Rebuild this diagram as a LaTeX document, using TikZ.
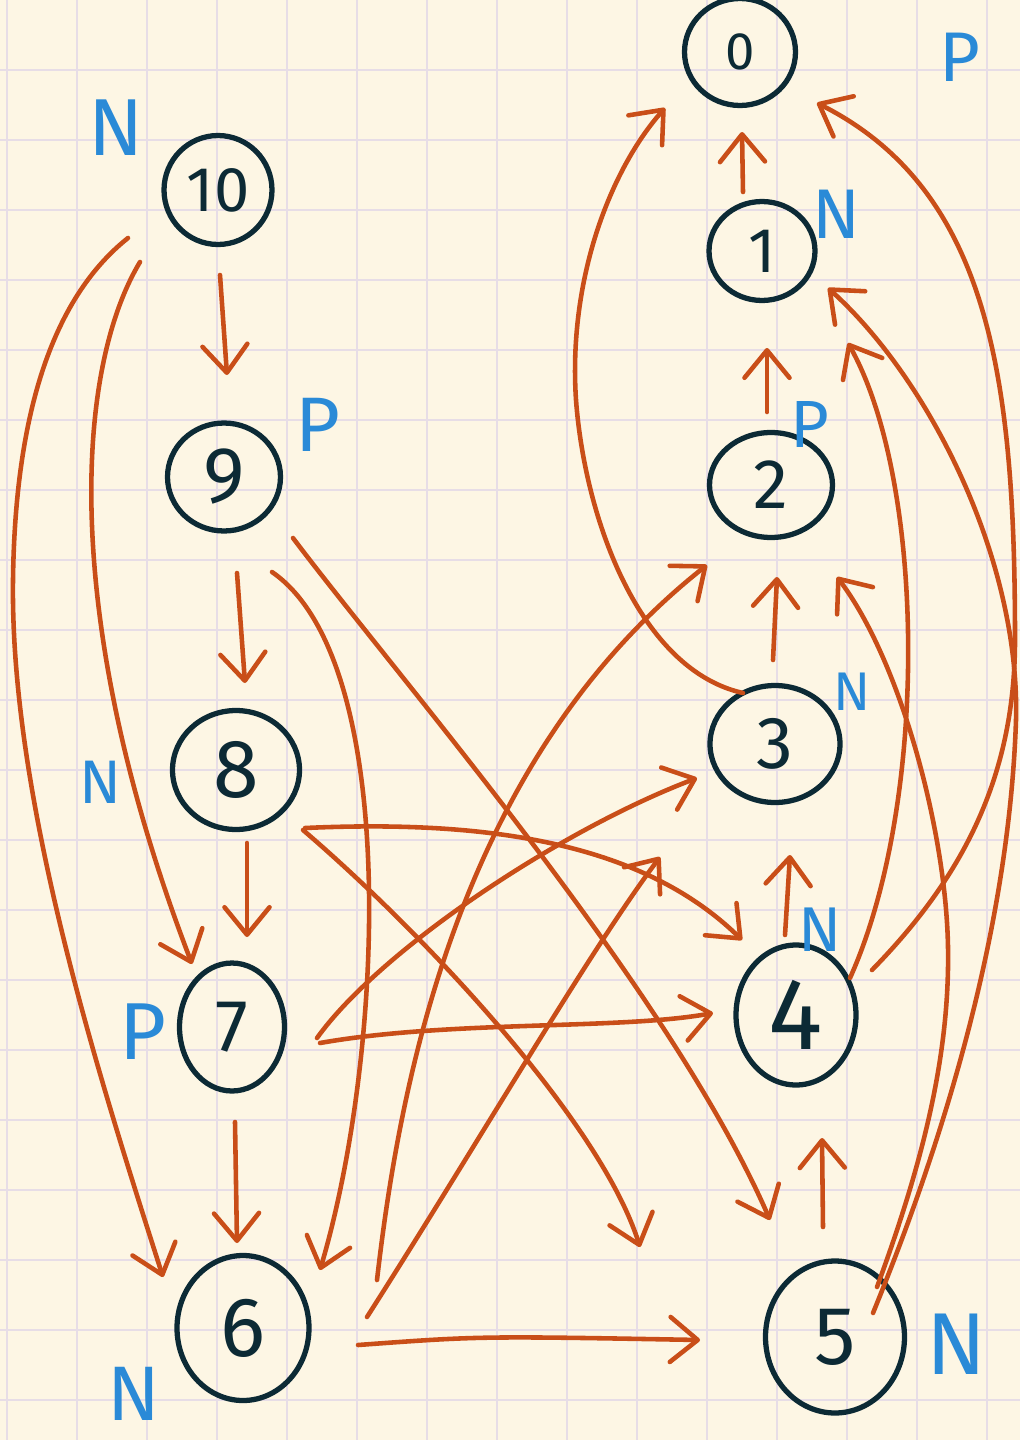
\documentclass[tikz,border=0pt]{standalone}
\usepackage{fontspec}
\setmainfont{Fira Sans}
\usepackage{tikz}
\usetikzlibrary{arrows.meta,calc,shapes.geometric}
\definecolor{paper}{RGB}{253,246,228}
\definecolor{gridline}{RGB}{231,221,230}
\definecolor{ink}{RGB}{12,42,53}
\definecolor{wire}{RGB}{201,78,24}
\definecolor{pen}{RGB}{42,138,215}
\newcommand{\numsize}[1]{\fontsize{#1}{#1}\selectfont}

\begin{document}
\begin{tikzpicture}[x=0.02cm,y=-0.02cm,
    vertex/.style 2 args={ellipse,draw=ink,line width=3pt,inner sep=0pt,text=ink,minimum width=#1,minimum height=#2},
    edge/.style={draw=wire,line width=2.6pt,line cap=round,line join=round,-{Straight Barb[length=5.5mm,width=9mm,round]}},
    polarity/.style={text=pen,inner sep=0pt,font=\numsize{#1}},
    polarity/.default=38]
        \useasboundingbox (0,0) rectangle (1020,1440);
        %Paper
        \fill[paper] (0,0) rectangle (1020,1440);
        \foreach \gx in {7,77,...,987} \draw[gridline,line width=1pt] (\gx,0) -- (\gx,1440);
        \foreach \gy in {70,140,...,1400} \draw[gridline,line width=1pt] (0,\gy) -- (1020,\gy);
        %Draw nodes
        \node[vertex={2.22cm}{2.14cm},font=\numsize{30}] (n0) at (740,52) {0};
        \node[vertex={2.12cm}{1.98cm},font=\numsize{36}] (n1) at (762,251) {1};
        \node[vertex={2.46cm}{2.10cm},font=\numsize{40}] (n2) at (771,485) {2};
        \node[vertex={2.60cm}{2.34cm},font=\numsize{42}] (n3) at (775,744) {3};
        \node[vertex={2.40cm}{2.80cm},font=\numsize{58}] (n4) at (796,1015) {4};
        \node[vertex={2.78cm}{3.04cm},font=\numsize{47}] (n5) at (835,1337) {5};
        \node[vertex={2.64cm}{2.90cm},font=\numsize{48}] (n6) at (243,1328) {6};
        \node[vertex={2.10cm}{2.56cm},font=\numsize{42}] (n7) at (232,1027) {7};
        \node[vertex={2.54cm}{2.38cm},font=\numsize{47}] (n8) at (236,770) {8};
        \node[vertex={2.26cm}{2.16cm},font=\numsize{45}] (n9) at (224,477) {9};
        \node[vertex={2.16cm}{2.18cm},font=\numsize{36}] (n10) at (218,190) {10};
        %Labels
        \node[polarity=40] (p0) at (960,57) {P};
        \node[polarity=40] (p1) at (836,214) {N};
        \node[polarity=38] (p2) at (810,424) {P};
        \node[polarity=31] (p3) at (852,692) {N};
        \node[polarity=36] (p4) at (820,930) {N};
        \node[polarity=50] (p5) at (956,1344) {N};
        \node[polarity=44] (p6) at (134,1394) {N};
        \node[polarity=46] (p7) at (143,1032) {P};
        \node[polarity=35] (p8) at (100,782) {N};
        \node[polarity=44] (p9) at (318,425) {P};
        \node[polarity=46] (p10) at (116,128) {N};
        %Left column
        \draw[edge] ($(n10)+(2,85)$) -- ($(n9)+(3,-102)$);
        \draw[edge] ($(n9)+(13,96)$) -- ($(n8)+(9,-87)$);
        \draw[edge] ($(n8)+(11,73)$) -- ($(n7)+(15,-90)$);
        \draw[edge] ($(n7)+(3,95)$) -- ($(n6)+(-6,-85)$);
        \draw[edge] ($(n10)+(-78,72)$) .. controls (75,370) and (60,620) .. ($(n7)+(-40,-63)$);
        \draw[edge] ($(n10)+(-90,48)$) .. controls (50,300) and (15,420) .. (13,580)
            .. controls (10,800) and (100,1080) .. ($(n6)+(-80,-51)$);
        \draw[edge] ($(n9)+(48,95)$) .. controls (400,660) and (385,1050) .. ($(n6)+(77,-58)$);
        %Right column
        \draw[edge] ($(n6)+(115,17)$) .. controls (480,1336) .. ($(n5)+(-135,3)$);
        \draw[edge] ($(n5)+(-12,-110)$) -- ($(n4)+(26,123)$);
        \draw[edge] ($(n4)+(-11,-80)$) -- ($(n3)+(15,111)$);
        \draw[edge] ($(n3)+(-2,-84)$) -- ($(n2)+(6,92)$);
        \draw[edge] ($(n2)+(-4,-73)$) -- ($(n1)+(5,97)$);
        \draw[edge] ($(n1)+(-19,-59)$) -- ($(n0)+(2,80)$);
        %Crossing edges
        \draw[edge] ($(n9)+(69,61)$) .. controls (400,680) and (670,990) .. ($(n5)+(-65,-117)$);
        \draw[edge] ($(n8)+(69,58)$) .. controls (480,820) and (640,840) .. ($(n4)+(-54,-75)$);
        \draw[edge] ($(n8)+(67,60)$) .. controls (420,930) and (600,1120) .. ($(n5)+(-195,-90)$);
        \draw[edge] ($(n7)+(85,11)$) .. controls (380,950) and (560,830) .. ($(n3)+(-78,34)$);
        \draw[edge] ($(n7)+(88,16)$) .. controls (450,1020) and (620,1030) .. ($(n4)+(-83,-2)$);
        \draw[edge] ($(n6)+(134,-48)$) .. controls (400,1080) and (460,760) .. ($(n2)+(-64,80)$);
        \draw[edge] ($(n6)+(124,-11)$) .. controls (480,1140) and (590,950) .. ($(n3)+(-115,113)$);
        %Back edges
        \draw[edge] ($(n3)+(-32,-51)$) .. controls (640,670) and (585,520) .. (576,400)
            .. controls (568,280) and (610,170) .. ($(n0)+(-75,56)$);
        \draw[edge] ($(n4)+(54,-37)$) .. controls (930,800) and (925,480) .. ($(n1)+(86,92)$);
        \draw[edge] ($(n4)+(76,-45)$) .. controls (960,880) and (1015,780) .. (1015,640)
            .. controls (1015,380) and (990,190) .. ($(n0)+(77,51)$);
        \draw[edge] ($(n5)+(42,-50)$) .. controls (920,1170) and (950,1060) .. (948,947)
            .. controls (946,830) and (900,660) .. ($(n2)+(66,92)$);
        \draw[edge] ($(n5)+(38,-24)$) .. controls (960,1100) and (1010,900) .. (1016,720)
            .. controls (1020,560) and (930,380) .. ($(n1)+(66,37)$);
\end{tikzpicture}
\end{document}
